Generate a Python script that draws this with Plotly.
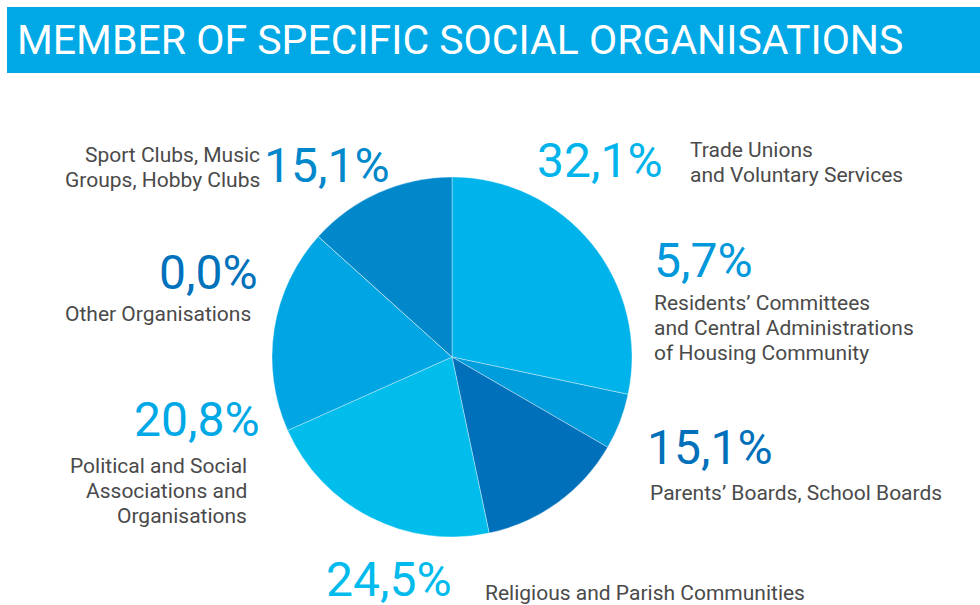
import plotly.graph_objects as go

W, H = 980, 605

categories = [
    "Trade Unions and Voluntary Services",
    "Residents' Committees and Central Administrations of Housing Community",
    "Parents' Boards, School Boards",
    "Religious and Parish Communities",
    "Political and Social Associations and Organisations",
    "Other Organisations",
    "Sport Clubs, Music Groups, Hobby Clubs",
]
shares = [32.1, 5.7, 15.1, 24.5, 20.8, 0.0, 15.1]
pct_labels = ["32,1%", "5,7%", "15,1%", "24,5%", "20,8%", "0,0%", "15,1%"]
slice_colors = ["#00b4eb", "#009ddc", "#0070ba", "#00bdec", "#00a6e4", "#0072bc", "#0088cb"]
pct_colors = ["#00b4eb", "#0098da", "#0070ba", "#00bbec", "#00a8e6", "#0072bc", "#0088cb"]
label_lines = [
    ["Trade Unions", "and Voluntary Services"],
    ["Residents’ Committees", "and Central Administrations", "of Housing Community"],
    ["Parents’ Boards, School Boards"],
    ["Religious and Parish Communities"],
    ["Political and Social", "Associations and", "Organisations"],
    ["Other Organisations"],
    ["Sport Clubs, Music", "Groups, Hobby Clubs"],
]

# pixel placement: (pct x, pct y, anchor, label x, first line y, anchor)
placements = [
    (535, 160, "left", 688, 150, "left"),
    (652, 260, "left", 652, 303, "left"),
    (645, 447, "left", 648, 493, "left"),
    (324, 579, "left", 483, 593, "left"),
    (262, 419, "right", 249, 466, "right"),
    (260, 272, "right", 253, 314, "right"),
    (392, 165, "right", 262, 155, "right"),
]
LINE_STEP = 25


def px(x, y):
    return x / W, 1 - y / H


fig = go.Figure(
    go.Pie(
        labels=categories,
        values=shares,
        sort=False,
        direction="clockwise",
        rotation=0,
        marker=dict(colors=slice_colors, line=dict(color="rgba(255,255,255,0.45)", width=0.8)),
        textinfo="none",
        hoverinfo="label+value",
        showlegend=False,
        domain=dict(x=[272 / W, 632 / W], y=[1 - 537 / H, 1 - 177 / H]),
    )
)

annotations = []
for pct, col, lines, (p_x, p_y, pa, lx, ly, la) in zip(pct_labels, pct_colors, label_lines, placements):
    ax, ay = px(p_x, p_y)
    annotations.append(dict(
        x=ax, y=ay, xref="paper", yref="paper", text=pct, showarrow=False,
        xanchor=pa, yanchor="middle",
        font=dict(family="Roboto", size=48, color=col),
    ))
    for i, line in enumerate(lines):
        bx, by = px(lx, ly + i * LINE_STEP)
        annotations.append(dict(
            x=bx, y=by, xref="paper", yref="paper", text=line, showarrow=False,
            xanchor=la, yanchor="middle",
            font=dict(family="Roboto", size=21, color="#4a4a4a"),
        ))

tx, ty = px(15, 40)
annotations.append(dict(
    x=tx, y=ty, xref="paper", yref="paper", text="MEMBER OF SPECIFIC SOCIAL ORGANISATIONS",
    showarrow=False, xanchor="left", yanchor="middle",
    font=dict(family="Roboto", size=41, color="white"),
))

fig.update_layout(
    width=W,
    height=H,
    margin=dict(l=0, r=0, t=0, b=0),
    paper_bgcolor="white",
    plot_bgcolor="white",
    annotations=annotations,
    shapes=[dict(type="rect", xref="paper", yref="paper", x0=7 / W, x1=1, y0=1 - 73 / H, y1=1 - 7 / H,
                 fillcolor="#00a8e6", line=dict(width=0), layer="below")],
)

# the page body has a default 8px margin; drop it so the figure sits at the window's corner
fig.write_html(
    "out.html",
    config={"displayModeBar": False},
    post_script="document.body.style.margin='0';",
)
